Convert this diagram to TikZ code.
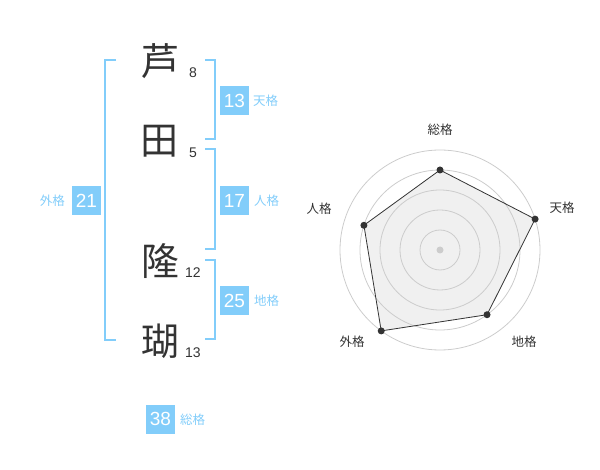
\documentclass[tikz,border=0pt]{standalone}
\usepackage{fontspec}
\usetikzlibrary{calc}
\setmainfont{Liberation Sans}
\newfontfamily\jp{Noto Sans CJK JP}
\definecolor{sky}{RGB}{130,205,250}
\definecolor{ink}{RGB}{51,51,51}
\definecolor{ringc}{RGB}{204,204,204}
\definecolor{areac}{RGB}{240,240,240}
\tikzset{
  kanji/.style={inner sep=0pt, text=ink, font=\jp\fontsize{38}{38}\selectfont},
  strokes/.style={inner sep=0pt, text=ink, font=\fontsize{14}{14}\selectfont},
  numbox/.style={fill=sky, text=white, minimum width=29pt, minimum height=29pt, inner sep=0pt, font=\fontsize{19}{19}\selectfont},
  kaku/.style={inner sep=0pt, text=sky, font=\jp\fontsize{12.5}{12.5}\selectfont},
  brk/.style={draw=sky, line width=2pt},
  axislabel/.style={inner sep=0pt, text=ink, font=\jp\fontsize{12.5}{12.5}\selectfont},
  ring/.style={draw=ringc, line width=0.8pt},
  vdot/.style={fill=ink},
}
\begin{document}
\begin{tikzpicture}[x=1pt,y=-1pt]
\useasboundingbox (0,0) rectangle (600,470);
% name characters
\node[kanji] (c1) at (160,61) {芦};
\node[kanji] (c2) at (159,141) {田};
\node[kanji] (c3) at (160,261) {隆};
\node[kanji] (c4) at (160,341) {瑚};
\node[strokes] (s1) at (193,73) {8};
\node[strokes] (s2) at (193,153) {5};
\node[strokes] (s3) at (193,273) {12};
\node[strokes] (s4) at (193,353) {13};
% brackets
\draw[brk] (116,60) -- (105,60) -- (105,340) -- (116,340);
\draw[brk] (205,60) -- (215,60) -- (215,139) -- (205,139);
\draw[brk] (205,149) -- (215,149) -- (215,249) -- (205,249);
\draw[brk] (205,260) -- (215,260) -- (215,339) -- (205,339);
% boxes
\node[numbox] (ten) at (234.5,100.5) {13};
\node[kaku, anchor=west] (tenl) at (253,101) {天格};
\node[numbox] (jin) at (234.5,200.5) {17};
\node[kaku, anchor=west] (jinl) at (254,201) {人格};
\node[numbox] (chi) at (234.5,300.5) {25};
\node[kaku, anchor=west] (chil) at (254,301) {地格};
\node[numbox] (gai) at (86.5,200.5) {21};
\node[kaku, anchor=east] (gail) at (65,201) {外格};
\node[numbox] (sou) at (160.5,419) {38};
\node[kaku, anchor=west] (soul) at (180,420) {総格};
% radar
\coordinate (O) at (440,250);
\coordinate (p1) at ($(O)+(-90:80)$);
\coordinate (p2) at ($(O)+(-18:100)$);
\coordinate (p3) at ($(O)+(54:80)$);
\coordinate (p4) at ($(O)+(126:100)$);
\coordinate (p5) at ($(O)+(198:80)$);
\fill[areac] (p1) -- (p2) -- (p3) -- (p4) -- (p5) -- cycle;
\foreach \r in {20,40,60,80,100} \draw[ring] (O) circle (\r);
\fill[ringc] (O) circle (3.5);
\draw[ink, line width=0.8pt] (p1) -- (p2) -- (p3) -- (p4) -- (p5) -- cycle;
\foreach \p in {p1,p2,p3,p4,p5} \fill[vdot] (\p) circle (3.5);
\node[axislabel] (a1) at (440,130) {総格};
\node[axislabel] (a2) at (562,208) {天格};
\node[axislabel] (a3) at (524,342) {地格};
\node[axislabel] (a4) at (352,342) {外格};
\node[axislabel] (a5) at (319,209) {人格};
\end{tikzpicture}
\end{document}
